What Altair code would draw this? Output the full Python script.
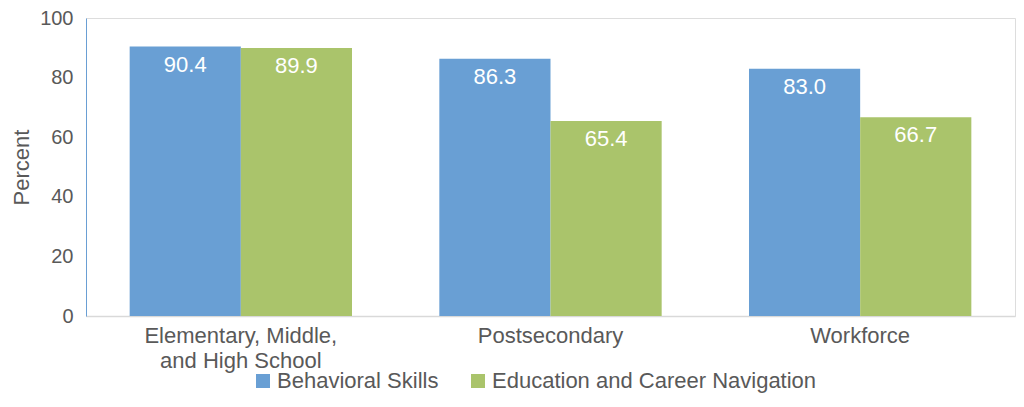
import altair as alt
import pandas as pd

categories = ["Elementary, Middle, and High School", "Postsecondary", "Workforce"]
series = ["Behavioral Skills", "Education and Career Navigation"]
behavioral = [90.4, 86.3, 83.0]
navigation = [89.9, 65.4, 66.7]
colors = ["#699FD4", "#AAC46B"]

rows = []
for i, c in enumerate(categories):
    rows.append({"category": c, "series": series[0], "value": behavioral[i]})
    rows.append({"category": c, "series": series[1], "value": navigation[i]})
df = pd.DataFrame(rows)

FONT = "Liberation Sans"
TXT = "#595959"

x = alt.X(
    "category:N",
    sort=categories,
    scale=alt.Scale(paddingInner=0.282, paddingOuter=0.141),
    axis=alt.Axis(
        title=None,
        labelAngle=0,
        ticks=False,
        tickSize=0,
        labelPadding=9,
        labelFontSize=22,
        labelFont=FONT,
        labelColor=TXT,
        labelLineHeight=25,
        labelLimit=400,
        domainColor="#D9D9D9",
        domainWidth=1.5,
        labelExpr="datum.value == 'Elementary, Middle, and High School' ? ['Elementary, Middle,', 'and High School'] : datum.label",
    ),
)
y = alt.Y(
    "value:Q",
    scale=alt.Scale(domain=[0, 100], nice=False),
    axis=alt.Axis(
        title="Percent",
        values=[0, 20, 40, 60, 80, 100],
        grid=False,
        ticks=False,
        tickSize=0,
        labelPadding=13,
        labelFontSize=20,
        labelFont=FONT,
        labelColor=TXT,
        domainColor="#6A9FD4",
        domainWidth=1,
        titleFont=FONT,
        titleFontSize=22,
        titleFontWeight="normal",
        titleColor=TXT,
        titleX=-65,
        titleY=149,
        titleAngle=270,
        titleAlign="center",
        titleBaseline="middle",
    ),
)
xo = alt.XOffset("series:N", sort=series, scale=alt.Scale(paddingInner=0, paddingOuter=0))

bars = alt.Chart(df).mark_bar().encode(
    x=x,
    xOffset=xo,
    y=y,
    color=alt.Color(
        "series:N",
        sort=series,
        scale=alt.Scale(domain=series, range=colors),
        legend=alt.Legend(
            title=None,
            orient="none",
            direction="horizontal",
            legendX=166,
            legendY=352,
            padding=0,
            symbolType="square",
            symbolSize=196,
            symbolStrokeWidth=0,
            labelOffset=3,
            columnPadding=28,
            labelFontSize=22,
            labelFont=FONT,
            labelColor=TXT,
            labelLimit=500,
        ),
    ),
)

labels = alt.Chart(df).mark_text(
    baseline="alphabetic", dy=25, color="white", fontSize=22, font=FONT
).encode(
    x=alt.X("category:N", sort=categories),
    xOffset=xo,
    y=alt.Y("value:Q"),
    text=alt.Text("value:Q", format=".1f"),
)

chart = alt.layer(bars, labels).properties(
    width=929,
    height=298,
    autosize=alt.AutoSizeParams(type="none"),
    padding={"left": 78, "top": 10, "right": 1, "bottom": 83},
).configure_view(stroke=None).configure(background="white")

chart.save("out.html", embed_options={"renderer": "svg", "actions": False})
